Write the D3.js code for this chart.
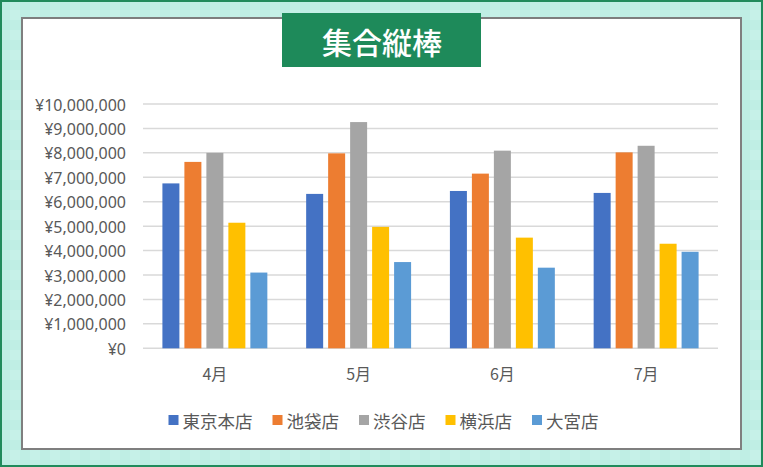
<!DOCTYPE html>
<html>
<head>
<meta charset="utf-8">
<script src="https://cdn.jsdelivr.net/npm/d3@7"></script>
<style>
  body { margin: 0; background: #fff; }
  text { font-family: "Noto Sans CJK JP", "Noto Sans", sans-serif; }
</style>
</head>
<body>
<script>
var w = 763;
var h = 467;

// data
var months = ["4月", "5月", "6月", "7月"];
var stores = ["東京本店", "池袋店", "渋谷店", "横浜店", "大宮店"];
var tokyo = [6750000, 6320000, 6440000, 6360000];
var ikebukuro = [7630000, 7980000, 7150000, 8020000];
var shibuya = [8000000, 9260000, 8090000, 8290000];
var yokohama = [5140000, 4970000, 4530000, 4280000];
var omiya = [3100000, 3530000, 3300000, 3950000];
var yTicks = [0, 1000000, 2000000, 3000000, 4000000, 5000000, 6000000, 7000000, 8000000, 9000000, 10000000];
var colors = ["#4472C4", "#ED7D31", "#A5A5A5", "#FFC000", "#5B9BD5"];
var title = "集合縦棒";

var series = [tokyo, ikebukuro, shibuya, yokohama, omiya];

var svg = d3.select("body")
    .append("svg")
    .attr("width", w)
    .attr("height", h);

// checked mint frame
var defs = svg.append("defs");
var pat = defs.append("pattern")
    .attr("id", "check")
    .attr("width", 20)
    .attr("height", 20)
    .attr("patternUnits", "userSpaceOnUse");
pat.append("rect").attr("width", 20).attr("height", 20).attr("fill", "#c6f1e8");
pat.append("rect").attr("width", 10).attr("height", 20).attr("fill", "#b8ecdf").attr("opacity", 0.5);
pat.append("rect").attr("width", 20).attr("height", 10).attr("fill", "#b8ecdf").attr("opacity", 0.5);

svg.append("rect")
    .attr("x", 1).attr("y", 1)
    .attr("width", w - 2).attr("height", h - 2)
    .attr("fill", "url(#check)")
    .attr("stroke", "#1f8a5b")
    .attr("stroke-width", 2);

svg.append("rect")
    .attr("x", 22).attr("y", 18)
    .attr("width", 719).attr("height", 431)
    .attr("fill", "#fff")
    .attr("stroke", "#7f7f7f")
    .attr("stroke-width", 2);

// title box
svg.append("rect")
    .attr("x", 282).attr("y", 13)
    .attr("width", 199).attr("height", 54)
    .attr("fill", "#1e8a5a");

svg.append("text")
    .attr("x", 382).attr("y", 41)
    .attr("text-anchor", "middle")
    .attr("dominant-baseline", "central")
    .attr("fill", "#fff")
    .attr("font-size", 30)
    .attr("font-weight", 500)
    .text(title);

var plotLeft = 143, plotRight = 718, plotTop = 104, plotBottom = 348.3;

var y = d3.scaleLinear().domain([0, 10000000]).range([plotBottom, plotTop]);

var x0 = d3.scaleBand().domain(months).range([plotLeft, plotRight])
    .paddingInner(0.27).paddingOuter(0.135);

var x1 = d3.scaleBand().domain(d3.range(stores.length)).range([0, x0.bandwidth()])
    .paddingInner(0.227).paddingOuter(0);

// gridlines
svg.append("g")
    .selectAll("line")
    .data(yTicks)
    .enter()
    .append("line")
    .attr("x1", plotLeft)
    .attr("x2", plotRight)
    .attr("y1", function (d) { return y(d); })
    .attr("y2", function (d) { return y(d); })
    .attr("stroke", "#d9d9d9")
    .attr("stroke-width", 1.5);

// y axis labels
var fmt = function (d) { return "¥" + d3.format(",")(d); };
var yAxis = d3.axisLeft(y).tickValues(yTicks).tickFormat(fmt).tickSize(0).tickPadding(0);
var gy = svg.append("g")
    .attr("transform", "translate(126,1)")
    .call(yAxis);
gy.select(".domain").remove();
gy.selectAll("text")
    .attr("fill", "#595959")
    .attr("font-size", 16)
    .style("font-family", "'Noto Sans', sans-serif");

// bars
var groups = svg.append("g")
    .selectAll("g")
    .data(months)
    .enter()
    .append("g")
    .attr("transform", function (d) { return "translate(" + x0(d) + ",0)"; });

groups.selectAll("rect")
    .data(function (m, i) {
        return series.map(function (s, k) { return { k: k, v: s[i] }; });
    })
    .enter()
    .append("rect")
    .attr("x", function (d) { return x1(d.k); })
    .attr("width", x1.bandwidth())
    .attr("y", function (d) { return y(d.v); })
    .attr("height", function (d) { return plotBottom - y(d.v); })
    .attr("fill", function (d) { return colors[d.k]; });

// x axis labels
var xAxis = d3.axisBottom(x0).tickSize(0).tickPadding(0);
var gx = svg.append("g")
    .attr("transform", "translate(0,369)")
    .call(xAxis);
gx.select(".domain").remove();
gx.selectAll("text")
    .attr("fill", "#595959")
    .attr("font-size", 16);

// legend
var legend = svg.append("g");
var items = legend.selectAll("g")
    .data(stores)
    .enter()
    .append("g");

items.append("rect")
    .attr("width", 10)
    .attr("height", 10)
    .attr("y", -5)
    .attr("fill", function (d, i) { return colors[i]; });

items.append("text")
    .attr("x", 14)
    .attr("dominant-baseline", "central")
    .attr("fill", "#595959")
    .attr("font-size", 17.5)
    .text(function (d) { return d; });

var pos = 0;
var offsets = [];
items.each(function (d, i) {
    var tw = d3.select(this).select("text").node().getComputedTextLength();
    offsets.push(pos);
    pos += 14 + tw + 20;
});
var totalW = pos - 20;
items.attr("transform", function (d, i) { return "translate(" + offsets[i] + ",0)"; });
legend.attr("transform", "translate(" + (383.5 - totalW / 2) + ",420)");
</script>
</body>
</html>
